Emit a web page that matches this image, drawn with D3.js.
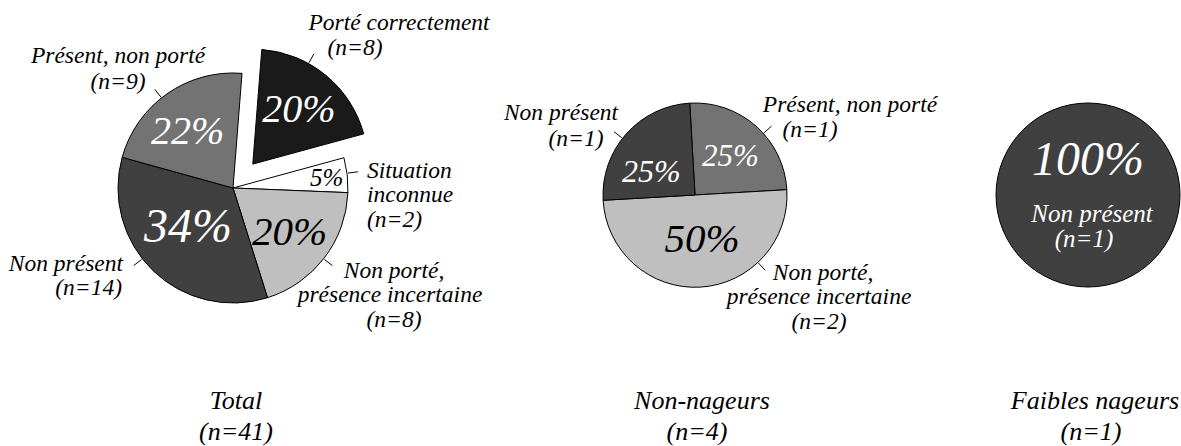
<!DOCTYPE html>
<html>
<head>
<meta charset="utf-8">
<script src="https://cdn.jsdelivr.net/npm/d3@7"></script>
<style>
  body { margin: 0; background: #fff; }
</style>
</head>
<body>
<div id="chart"></div>
<script>
// data
var totalCategories = ["Porté correctement", "Situation inconnue", "Non porté, présence incertaine", "Non présent", "Présent, non porté"];
var totalCounts = [8, 2, 8, 14, 9];

var nonNageursCategories = ["Présent, non porté", "Non porté, présence incertaine", "Non présent"];
var nonNageursCounts = [1, 2, 1];

var faiblesCategories = ["Non présent"];
var faiblesCounts = [1];

var groupTitles = ["Total", "Non-nageurs", "Faibles nageurs"];

var allCategories = ["Porté correctement", "Situation inconnue", "Non porté, présence incertaine", "Non présent", "Présent, non porté"];
var color = d3.scaleOrdinal()
    .domain(allCategories)
    .range(["#1a1a1a", "#ffffff", "#bfbfbf", "#404040", "#737373"]);

// how long category names are broken over lines
var nameLines = {
    "Situation inconnue": ["Situation", "inconnue"],
    "Non porté, présence incertaine": ["Non porté,", "présence incertaine"]
};

var FONT = "Liberation Serif";

// layout: pct = [radius fraction, angle shift (deg), font size]
// leader = angle in degrees, lines = [dx, dy] per text line from centre
var charts = [
    {cats: totalCategories, counts: totalCounts, title: groupTitles[0],
     cx: 233, cy: 188, r: 115, start: 4.5, titleX: [236, 236],
     slices: {
        "Porté correctement": {explode: 31, pct: [0.63, 0, 40], leader: 29, anchor: "middle", lines: [[166, -158], [122, -133]]},
        "Situation inconnue": {pct: [0.82, 0, 25], leader: 82.6, anchor: "start", lines: [[134, -10], [134, 14], [134, 39]]},
        "Non porté, présence incertaine": {pct: [0.62, 0, 41], leader: 128, anchor: "middle", lines: [[161, 90], [157, 114], [161, 139]]},
        "Non présent": {pct: [0.51, 6, 48], leader: 232, anchor: "end", lines: [[-110, 83], [-111, 107]]},
        "Présent, non porté": {pct: [0.64, -3, 40], leader: 321.6, anchor: "middle", lines: [[-115, -125], [-115, -99]]}
     }},
    {cats: nonNageursCategories, counts: nonNageursCounts, title: groupTitles[1],
     cx: 695, cy: 195, r: 92, start: -3.3, titleX: [702, 697],
     slices: {
        "Présent, non porté": {pct: [0.58, 0, 31], leader: 48, anchor: "middle", lines: [[155, -83], [115, -58]]},
        "Non porté, présence incertaine": {pct: [0.475, -6, 41], leader: 137, anchor: "middle", lines: [[128, 85], [124, 109], [124, 134]]},
        "Non présent": {pct: [0.54, -13, 32], leader: 308, anchor: "middle", lines: [[-134, -75], [-119, -49]]}
     }},
    {cats: faiblesCategories, counts: faiblesCounts, title: groupTitles[2],
     cx: 1088, cy: 195, r: 92, start: 0, titleX: [1095, 1091],
     slices: {
        "Non présent": {pct: [0.40, -180, 48], inside: true, size: 25, anchor: "middle", lines: [[4, 27], [-4, 52]]}
     }}
];

var svg = d3.select("#chart").append("svg")
    .attr("width", 1181)
    .attr("height", 446);

function polar(deg, d) {
    var a = deg * Math.PI / 180;
    return [d * Math.sin(a), -d * Math.cos(a)];
}

function label(sel, size) {
    return sel.append("text")
        .attr("font-family", FONT)
        .attr("font-style", "italic")
        .attr("font-size", size);
}

charts.forEach(function(c) {
    var total = d3.sum(c.counts);
    var s0 = c.start * Math.PI / 180;
    var pie = d3.pie().sort(null).startAngle(s0).endAngle(s0 + 2 * Math.PI);
    var arcs = pie(c.counts);
    var arc = d3.arc().innerRadius(0).outerRadius(c.r);

    var g = svg.append("g")
        .attr("transform", "translate(" + c.cx + "," + c.cy + ")");

    // slices first, so no outline runs over a label
    var groups = arcs.map(function(a, i) {
        var lay = c.slices[c.cats[i]];
        var mid = (a.startAngle + a.endAngle) / 2 * 180 / Math.PI;
        var off = polar(mid, lay.explode || 0);
        var sg = g.append("g").attr("transform", "translate(" + off[0] + "," + off[1] + ")");
        sg.append("path")
            .attr("d", arc(a))
            .attr("fill", color(c.cats[i]))
            .attr("stroke", "#000")
            .attr("stroke-width", 1);
        return {g: sg, mid: mid, lay: lay};
    });

    arcs.forEach(function(a, i) {
        var name = c.cats[i];
        var sg = groups[i].g, lay = groups[i].lay;
        var fill = color(name);
        var textFill = d3.hsl(fill).l < 0.5 ? "#fff" : "#000";

        // percentage
        var p = polar(groups[i].mid + lay.pct[1], c.r * lay.pct[0]);
        label(sg, lay.pct[2])
            .attr("x", p[0])
            .attr("y", p[1])
            .attr("dy", "0.34em")
            .attr("text-anchor", "middle")
            .attr("fill", textFill)
            .text(Math.round(c.counts[i] / total * 100) + "%");

        // leader line
        if (!lay.inside) {
            var p1 = polar(lay.leader, c.r + 1);
            var p2 = polar(lay.leader, c.r + 11);
            sg.append("line")
                .attr("x1", p1[0]).attr("y1", p1[1])
                .attr("x2", p2[0]).attr("y2", p2[1])
                .attr("stroke", "#000")
                .attr("stroke-width", 1);
        }

        // category name + count
        var lines = (nameLines[name] || [name]).concat(["(n=" + c.counts[i] + ")"]);
        lines.forEach(function(t, j) {
            label(g, lay.size || 23.5)
                .attr("x", lay.lines[j][0])
                .attr("y", lay.lines[j][1])
                .attr("text-anchor", lay.anchor)
                .attr("fill", lay.inside ? textFill : "#000")
                .text(t);
        });
    });

    // group title under each pie
    label(svg, 26)
        .attr("x", c.titleX[0])
        .attr("y", 409)
        .attr("text-anchor", "middle")
        .text(c.title);
    label(svg, 26)
        .attr("x", c.titleX[1])
        .attr("y", 440)
        .attr("text-anchor", "middle")
        .text("(n=" + total + ")");
});
</script>
</body>
</html>
